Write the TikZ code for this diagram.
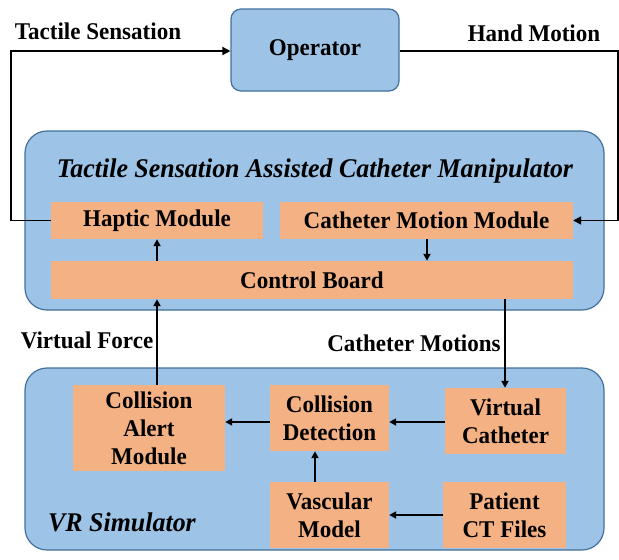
\documentclass[tikz,border=0pt]{standalone}
\usepackage{fontspec}
\setmainfont{Liberation Serif}[FakeStretch=0.96]
\usetikzlibrary{arrows.meta}
\definecolor{bluefill}{HTML}{9DC3E6}
\definecolor{blueline}{HTML}{41719C}
\definecolor{orangefill}{HTML}{F4B183}
\begin{document}
\begin{tikzpicture}[x=1pt,y=-1pt,
  font=\fontsize{24}{28}\selectfont\bfseries,
  bluebox/.style={draw=blueline,line width=1.2pt,fill=bluefill,rounded corners=#1,inner sep=0pt},
  orbox/.style={fill=orangefill,inner sep=0pt,align=center},
  arr/.style={line width=2.4pt,-{Triangle[length=7pt,width=7pt]}},
  farr/.style={line width=1.7pt,-{Triangle[length=8pt,width=8pt]}},
  lbl/.style={inner sep=0pt},
  ital/.style={inner sep=0pt,font=\fontsize{27}{30}\selectfont\bfseries\itshape}]
\useasboundingbox (0,0) rectangle (619,560);
% containers
\node[bluebox=10pt,minimum width=168pt,minimum height=82pt] (op) at (315,50) {Operator};
\node[bluebox=22pt,minimum width=579pt,minimum height=179pt] (manip) at (314.5,220.5) {};
\node[bluebox=22pt,minimum width=579pt,minimum height=182pt] (sim) at (314.5,459) {};
% manipulator blocks
\node[orbox,minimum width=212pt,minimum height=37pt] (hap) at (157,220.5) {Haptic Module};
\node[orbox,minimum width=293pt,minimum height=37pt] (cmm) at (426.5,220.5) {Catheter Motion Module};
\node[orbox,minimum width=522pt,minimum height=38pt] (cb) at (312,280) {Control Board};
% simulator blocks
\node[orbox,minimum width=152pt,minimum height=86pt] (cam) at (149,428) {Collision\\Alert\\Module};
\node[orbox,minimum width=119pt,minimum height=66pt] (cd) at (329.5,418) {Collision\\Detection};
\node[orbox,minimum width=121pt,minimum height=66pt] (vc) at (505.5,421) {Virtual\\Catheter};
\node[orbox,minimum width=119pt,minimum height=66pt] (vm) at (329.5,515) {Vascular\\Model};
\node[orbox,minimum width=123pt,minimum height=66pt] (pct) at (504.5,515) {Patient\\CT Files};
% labels
\node[lbl] (ts) at (98,31) {Tactile Sensation};
\node[lbl] (hm) at (534,33) {Hand Motion};
\node[lbl] (vf) at (87,340) {Virtual Force};
\node[lbl] (cm) at (414,343) {Catheter Motions};
\node[ital] (title) at (315,171) {Tactile Sensation Assisted Catheter Manipulator};
\node[ital] (vrs) at (122,522) {VR Simulator};
% coordinates
\coordinate (xl) at (11,0);
\coordinate (xr) at (618,0);
\coordinate (yt) at (0,51);
\coordinate (xa) at (157,0);
\coordinate (xb) at (427,0);
\coordinate (xc) at (505,0);
\coordinate (xd) at (315,0);
\coordinate (ya) at (0,422);
\coordinate (yb) at (0,515);
% outer loop
\draw[farr] (hap.west) -- (hap.west -| xl) -- (xl |- yt) -- (op.west |- yt);
\draw[farr] (op.east |- yt) -- (xr |- yt) -- (xr |- cmm.east) -- (cmm.east);
% inner arrows
\draw[arr] (cb.north -| xa) -- (hap.south -| xa);
\draw[arr] (cmm.south -| xb) -- (cb.north -| xb);
\draw[arr] (cam.north -| xa) -- (cb.south -| xa);
\draw[arr] (cb.south -| xc) -- (vc.north -| xc);
\draw[arr] (vc.west |- ya) -- (cd.east |- ya);
\draw[arr] (cd.west |- ya) -- (cam.east |- ya);
\draw[arr] (vm.north -| xd) -- (cd.south -| xd);
\draw[arr] (pct.west |- yb) -- (vm.east |- yb);
\end{tikzpicture}
\end{document}
